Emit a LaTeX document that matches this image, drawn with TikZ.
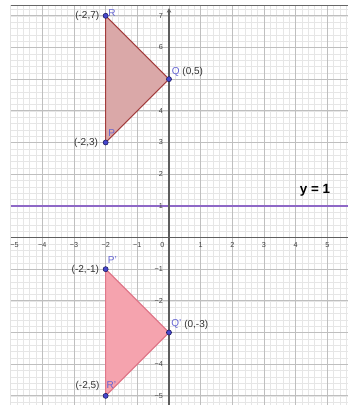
\documentclass[tikz,border=0pt]{standalone}
\usepackage{fontspec}
\setmainfont{Liberation Sans}
\usetikzlibrary{arrows.meta}
\definecolor{minorgrid}{HTML}{E6E6E6}
\definecolor{majorgrid}{HTML}{BFBFBF}
\definecolor{axisgray}{HTML}{5E5E5E}
\definecolor{ptblue}{HTML}{4646CC}
\definecolor{ptedge}{HTML}{1C1C5E}
\definecolor{lblblue}{HTML}{6464D2}
\definecolor{lbltext}{HTML}{333333}
\definecolor{topfill}{HTML}{DAA8A8}
\definecolor{topedge}{HTML}{A33C3C}
\definecolor{botfill}{HTML}{F5A3AE}
\definecolor{botedge}{HTML}{E0788A}
\definecolor{mirror}{HTML}{8E68C6}
\begin{document}
\begin{tikzpicture}[x=1cm,y=1cm,
  ticklbl/.style={font=\fontsize{6.5}{7}\selectfont, text=black!75, inner sep=0.5pt},
  pt/.style={circle, fill=ptblue, draw=ptedge, line width=0.5pt, inner sep=0pt, minimum size=4.6pt},
  ptname/.style={font=\fontsize{9}{10}\selectfont, text=lblblue, inner sep=0pt},
  ptcoord/.style={font=\fontsize{9}{10}\selectfont, text=lbltext, inner sep=0pt},
  tri1/.style={fill=topfill, draw=topedge, line width=1pt, line join=round},
  tri2/.style={fill=botfill, draw=botedge, line width=1pt, line join=round},
  axisline/.style={draw=axisgray, line width=1.1pt}]
\useasboundingbox (-5.336,-5.289) rectangle (5.652,7.499);
\begin{scope}
\clip (-5,-5.289) rectangle (5.652,7.33);
\draw[minorgrid, line width=0.5pt, step=0.2] (-5.2,-5.4) grid (5.8,7.4);
\draw[majorgrid, line width=0.8pt, step=1] (-5.2,-5.4) grid (5.8,7.4);
% mirror line
\coordinate (mL) at (-5,1);
\coordinate (mR) at (5.652,1);
\draw[mirror, line width=1.3pt] (mL) -- (mR);
% axes
\coordinate (xl) at (-5,0);
\coordinate (xr) at (5.652,0);
\coordinate (yb) at (0,-5.289);
\coordinate (yt) at (0,7.24);
\draw[axisline] (xl) -- (xr);
\draw[axisline, -{Stealth[length=4pt,width=4pt]}] (yb) -- (yt);
% tick labels
\node[ticklbl] at (-4.88,-0.25) {−5};
\foreach \x/\t in {-4/−4,-3/−3,-2/−2,-1/−1,1/1,2/2,3/3,4/4,5/5}
  \node[ticklbl] at (\x,-0.25) {\t};
\node[ticklbl] at (-0.21,-0.25) {0};
\foreach \y/\t in {-5/−5,-4/−4,-3/−3,-2/−2,-1/−1,1/1,2/2,3/3,4/4,5/5,6/6,7/7}
  \node[ticklbl, anchor=east] at (-0.17,\y) {\t};
% triangles
\coordinate (p) at (-2,3);
\coordinate (q) at (0,5);
\coordinate (r) at (-2,7);
\coordinate (p2) at (-2,-1);
\coordinate (q2) at (0,-3);
\coordinate (r2) at (-2,-5);
\filldraw[tri1] (p) -- (q) -- (r) -- cycle;
\filldraw[tri2] (p2) -- (q2) -- (r2) -- cycle;
\end{scope}
\draw[line width=0.9pt, black!60] (-5,7.33) -- (5.652,7.33);
% points
\node[pt] (R) at (r) {};
\node[pt] (Q) at (q) {};
\node[pt] (P) at (p) {};
\node[pt] (P2) at (p2) {};
\node[pt] (Q2) at (q2) {};
\node[pt] (R2) at (r2) {};
% labels
\node[ptname] (Rn) at (-1.80,7.09) {R};
\node[ptcoord] (Rc) at (-2.58,6.99) {(-2,7)};
\node[ptname] (Qn) at (0.21,5.23) {Q};
\node[ptcoord] (Qc) at (0.75,5.23) {(0,5)};
\node[ptname] (Pn) at (-1.81,3.29) {P};
\node[ptcoord] (Pc) at (-2.62,2.99) {(-2,3)};
\node[ptname] (P2n) at (-1.79,-0.70) {P'};
\node[ptcoord] (P2c) at (-2.64,-1.02) {(-2,-1)};
\node[ptname] (Q2n) at (0.23,-2.72) {Q'};
\node[ptcoord] (Q2c) at (0.86,-2.76) {(0,-3)};
\node[ptname] (R2n) at (-1.82,-4.67) {R'};
\node[ptcoord] (R2c) at (-2.57,-4.68) {(-2,5)};
\node[font=\fontsize{12}{13}\selectfont\bfseries, inner sep=0pt] (eq) at (4.61,1.5) {y = 1};
\end{tikzpicture}
\end{document}
